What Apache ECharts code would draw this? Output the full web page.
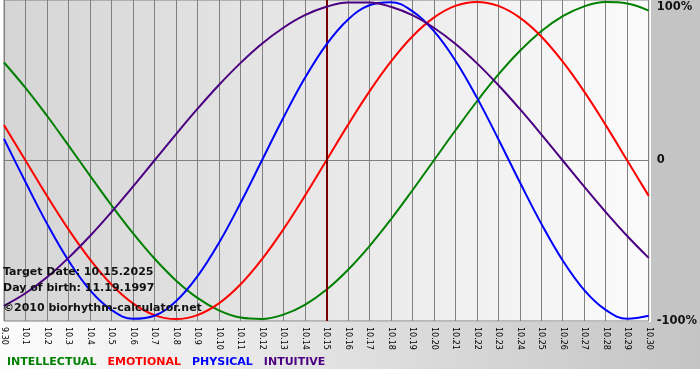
<!DOCTYPE html>
<html>
<head>
<meta charset="utf-8">
<script src="https://cdn.jsdelivr.net/npm/echarts@6/dist/echarts.min.js"></script>
<style>html,body{margin:0;padding:0;background:#fff}#c{width:700px;height:380px}</style>
</head>
<body>
<div id="c"></div>
<script>
var days = ['9.30','10.1','10.2','10.3','10.4','10.5','10.6','10.7','10.8','10.9','10.10','10.11','10.12','10.13','10.14','10.15','10.16','10.17','10.18','10.19','10.20','10.21','10.22','10.23','10.24','10.25','10.26','10.27','10.28','10.29','10.30'];
var intellectual = [0.618,0.458,0.282,0.095,-0.095,-0.282,-0.458,-0.618,-0.756,-0.866,-0.945,-0.990,-0.999,-0.972,-0.910,-0.815,-0.690,-0.541,-0.372,-0.189,0,0.189,0.372,0.541,0.690,0.815,0.910,0.972,0.999,0.990,0.945];
var emotional = [0.223,0,-0.223,-0.434,-0.623,-0.782,-0.901,-0.975,-1,-0.975,-0.901,-0.782,-0.623,-0.434,-0.223,0,0.223,0.434,0.623,0.782,0.901,0.975,1,0.975,0.901,0.782,0.623,0.434,0.223,0,-0.223];
var physical = [0.136,-0.136,-0.398,-0.631,-0.817,-0.942,-0.998,-0.979,-0.888,-0.731,-0.520,-0.270,0,0.270,0.520,0.731,0.888,0.979,0.998,0.942,0.817,0.631,0.398,0.136,-0.136,-0.398,-0.631,-0.817,-0.942,-0.998,-0.979];
var intuitive = [-0.916,-0.837,-0.736,-0.614,-0.476,-0.325,-0.165,0,0.165,0.325,0.476,0.614,0.736,0.837,0.916,0.969,0.997,0.997,0.969,0.916,0.837,0.736,0.614,0.476,0.325,0.165,0,-0.165,-0.325,-0.476,-0.614];
var yTickValues = [-1, 0, 1];
var yTickLabels = {'-1': '-100%', '0': '0', '1': '100%'};
var targetDay = '10.15';
var infoLines = ['Target Date: 10.15.2025', 'Day of birth: 11.19.1997', '\u00a92010 biorhythm-calculator.net'];
var seriesNames = ['INTELLECTUAL', 'EMOTIONAL', 'PHYSICAL', 'INTUITIVE'];
var seriesColors = ['#008000', '#ff0000', '#0000ff', '#4b0082'];
var seriesData = [intellectual, emotional, physical, intuitive];

var FONT = 'DejaVu Sans';
var chart = echarts.init(document.getElementById('c'), null, {renderer: 'canvas'});

var series = seriesNames.map(function (n, i) {
  var s = {
    name: n, type: 'line', data: seriesData[i], smooth: 0.4,
    symbol: 'none', lineStyle: {color: seriesColors[i], width: 2},
    itemStyle: {color: seriesColors[i]}, z: 3 + i
  };
  if (i === 0) {
    s.markLine = {silent: true, symbol: 'none', label: {show: false},
      lineStyle: {color: '#808080', width: 1, type: 'solid'},
      data: [{yAxis: 0}], z: 1};
  }
  if (i === seriesNames.length - 1) {
    s.markLine = {silent: true, symbol: 'none', label: {show: false},
      lineStyle: {color: '#7a0000', width: 2, type: 'solid'},
      data: [{xAxis: targetDay}]};
  }
  return s;
});

var graphics = [
  {type: 'rect', z: -10, shape: {x: 651, y: 0, width: 49, height: 322}, style: {fill: '#c4c4c4'}},
  {type: 'rect', z: -10, shape: {x: 0, y: 322, width: 700, height: 47},
   style: {fill: new echarts.graphic.LinearGradient(0, 0, 1, 0, [{offset: 0, color: '#fcfcfc'}, {offset: 1, color: '#c4c4c4'}])}}
];
infoLines.forEach(function (t, i) {
  graphics.push({type: 'text', z: 100, left: 3, top: [267, 283, 303][i],
    style: {text: t, font: 'bold 11px "' + FONT + '"', fill: '#111'}});
});

chart.setOption({
  animation: false,
  backgroundColor: '#ffffff',
  textStyle: {fontFamily: FONT},
  grid: {left: 0, right: 49, top: 0, bottom: 59, show: true, borderColor: '#808080', borderWidth: 1,
    backgroundColor: new echarts.graphic.LinearGradient(0, 0, 1, 0, [{offset: 0, color: '#d5d5d5'}, {offset: 1, color: '#fbfbfb'}])},
  legend: {
    left: -4, top: 352, itemWidth: 0, itemHeight: 0, itemGap: 5, selectedMode: false,
    data: seriesNames.map(function (n, i) {
      return {name: n, textStyle: {color: seriesColors[i], fontWeight: 'bold', fontSize: 11, fontFamily: FONT}};
    })
  },
  xAxis: {
    type: 'category', data: days, boundaryGap: false,
    axisLine: {show: true, lineStyle: {color: '#808080', width: 1}},
    axisTick: {show: true, length: 4, interval: 0, lineStyle: {color: '#808080'}},
    splitLine: {show: true, interval: 0, lineStyle: {color: '#808080', width: 1}},
    axisLabel: {interval: 0, rotate: -90, margin: 6, fontSize: 8, color: '#000', fontFamily: FONT}
  },
  yAxis: {
    type: 'value', position: 'right', min: -1.012, max: 1.012,
    axisLine: {show: false}, axisTick: {show: false}, splitLine: {show: false},
    axisLabel: {
      customValues: yTickValues, margin: 8, align: 'left',
      fontSize: 11.5, fontWeight: 'bold', color: '#111', fontFamily: FONT,
      formatter: function (v) {
        var key = String(Math.round(v));
        var s = yTickLabels[key];
        if (key === '1') return '{t|' + s + '}';
        if (key === '-1') return '{b|' + s + '}';
        return s;
      },
      rich: {
        t: {padding: [10, 0, 0, 0], fontSize: 11.5, fontWeight: 'bold', color: '#111', fontFamily: FONT},
        b: {padding: [4, 0, 0, 0], fontSize: 11.5, fontWeight: 'bold', color: '#111', fontFamily: FONT}
      }
    }
  },
  graphic: graphics,
  series: series
});
</script>
</body>
</html>
